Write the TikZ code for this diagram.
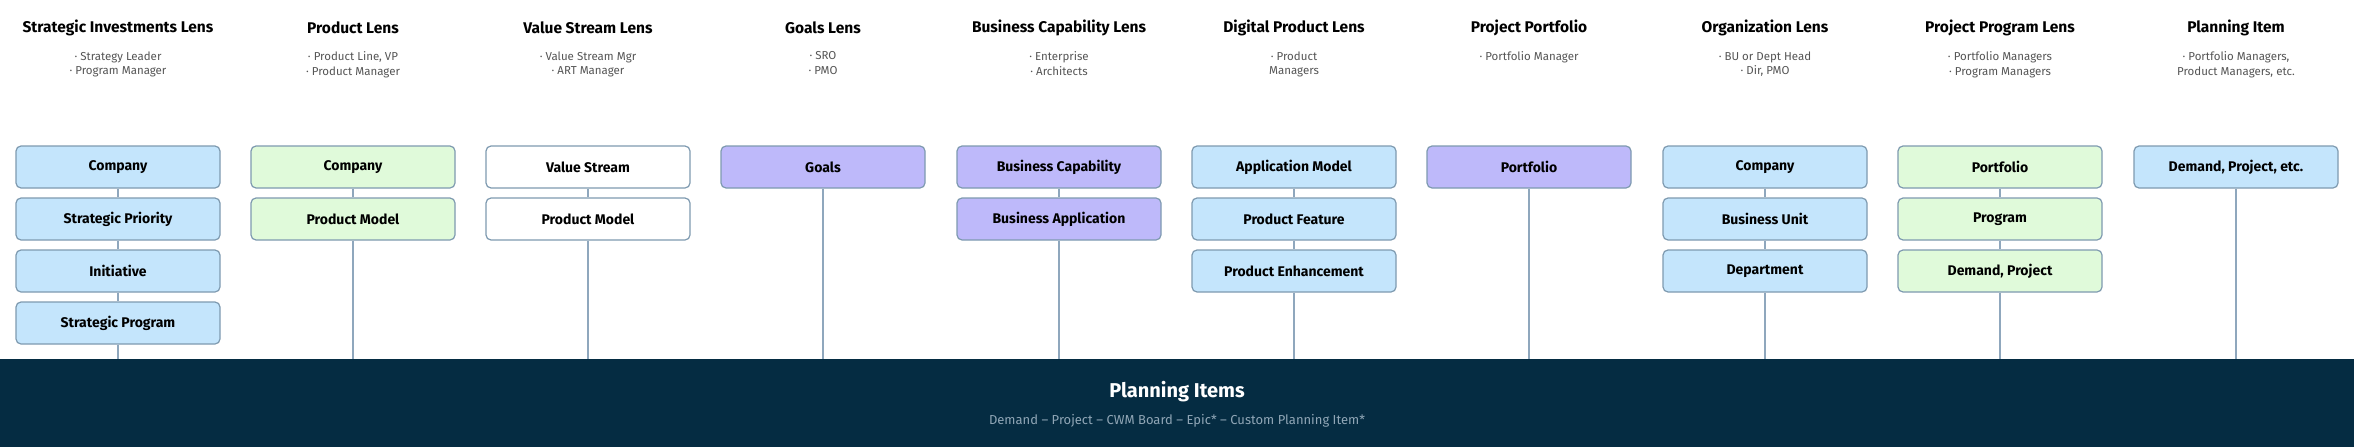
\documentclass[tikz,border=0pt]{standalone}
\usepackage{fontspec}
\setmainfont{Fira Sans}
\begin{document}
\definecolor{cblue}{HTML}{C4E5FC}
\definecolor{cgreen}{HTML}{E0FADA}
\definecolor{cpurple}{HTML}{BEB9FA}
\definecolor{cedge}{HTML}{7E9AB0}
\definecolor{cline}{HTML}{8FA7BD}
\definecolor{band}{HTML}{052C42}
\definecolor{sub}{HTML}{555555}
\definecolor{foot}{HTML}{90A6B6}
\begin{tikzpicture}[x=1pt,y=-1pt,
  box/.style={draw=cedge,line width=1.2pt,rounded corners=5pt,minimum width=204pt,minimum height=42pt,font=\fontsize{14}{16}\selectfont\bfseries,inner sep=0pt},
  ttl/.style={font=\fontsize{15.5}{18}\selectfont\bfseries},
  sb/.style={font=\fontsize{11.5}{14.5}\selectfont,text=sub,align=center},
  ln/.style={draw=cline,line width=1.2pt}]
\useasboundingbox (0,0) rectangle (2354,447);
\fill[white] (0,0) rectangle (2354,447);
\fill[band] (0,359) rectangle (2354,447);
\node[font=\fontsize{20}{24}\selectfont\bfseries,text=white] (pi) at (1177,392) {Planning Items};
\node[font=\fontsize{13}{16}\selectfont,text=foot] (pit) at (1177,421) {Demand – Project – CWM Board – Epic* – Custom Planning Item*};
\coordinate (b) at (0,359);
% columns
\def\col#1#2#3{}
\foreach \x/\t/\s [count=\i] in {
 118/Strategic Investments Lens/{· Strategy Leader\\· Program Manager},
 353/Product Lens/{· Product Line, VP\\· Product Manager},
 588/Value Stream Lens/{· Value Stream Mgr\\· ART Manager},
 823/Goals Lens/{· SRO\\· PMO},
 1059/Business Capability Lens/{· Enterprise\\· Architects},
 1294/Digital Product Lens/{· Product\\Managers},
 1529/Project Portfolio/{· Portfolio Manager},
 1765/Organization Lens/{· BU or Dept Head\\· Dir, PMO},
 2000/Project Program Lens/{· Portfolio Managers\\· Program Managers},
 2236/Planning Item/{· Portfolio Managers,\\Product Managers, etc.}}{
  \node[ttl] (t\i) at (\x,28) {\t};
  \node[sb,anchor=north] (s\i) at (\x,48) {\s};
}
% boxes: name/x/row/fill/text
\foreach \n/\x/\r/\f/\t in {
 a1/118/0/cblue/Company, a2/118/1/cblue/Strategic Priority, a3/118/2/cblue/Initiative, a4/118/3/cblue/Strategic Program,
 b1/353/0/cgreen/Company, b2/353/1/cgreen/Product Model,
 c1/588/0/white/Value Stream, c2/588/1/white/Product Model,
 d1/823/0/cpurple/Goals,
 e1/1059/0/cpurple/Business Capability, e2/1059/1/cpurple/Business Application,
 f1/1294/0/cblue/Application Model, f2/1294/1/cblue/Product Feature, f3/1294/2/cblue/Product Enhancement,
 g1/1529/0/cpurple/Portfolio,
 h1/1765/0/cblue/Company, h2/1765/1/cblue/Business Unit, h3/1765/2/cblue/Department,
 i1/2000/0/cgreen/Portfolio, i2/2000/1/cgreen/Program, i3/2000/2/cgreen/Demand{,} Project,
 j1/2236/0/cblue/{Demand, Project, etc.}}{
  \node[box,fill=\f] (\n) at (\x,167+52*\r) {\t};
}
\draw[ln] (a1)--(a2) (a2)--(a3) (a3)--(a4) (b1)--(b2) (c1)--(c2) (e1)--(e2) (f1)--(f2) (f2)--(f3) (h1)--(h2) (h2)--(h3) (i1)--(i2) (i2)--(i3);
\foreach \n in {a4,b2,c2,d1,e2,f3,g1,h3,i3,j1}{
  \draw[ln] (\n.south) -- (\n.south |- b);
}
\end{tikzpicture}
\end{document}
